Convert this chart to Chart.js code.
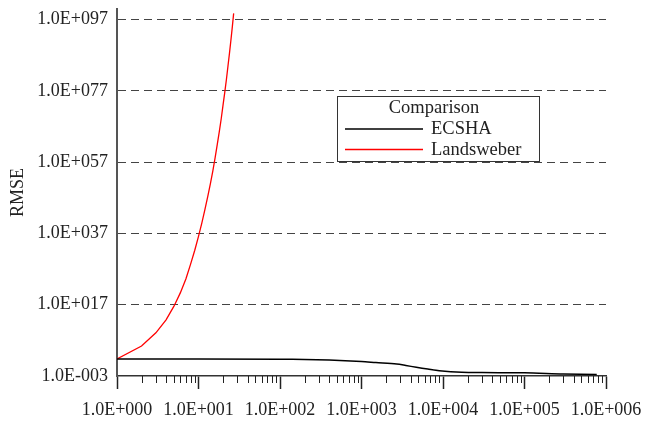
<!DOCTYPE html>
<html>
<head>
<meta charset="utf-8">
<script src="https://cdn.jsdelivr.net/npm/chart.js@4/dist/chart.umd.min.js"></script>
<style>
  html, body { margin: 0; padding: 0; background: #fff; }
  #wrap { width: 645px; height: 421px; position: relative; }
</style>
</head>
<body>
<div id="wrap"><canvas id="chart"></canvas></div>
<script>
// RMSE vs iteration, ECSHA against Landsweber (log-log)

// iteration counts and RMSE
const ecshaX = [1, 100, 200, 400, 1000, 1500, 2700, 3500, 4700, 6500, 9000, 17000, 30000, 100000, 300000, 770000];
const ecshaY = [60, 50, 45, 30, 12, 6, 2.3, 0.9, 0.28, 0.09, 0.031, 0.011, 0.009, 0.008, 0.0036, 0.0026];

const landX = [1, 2, 3, 4, 5, 6, 7, 8, 9, 10, 11, 12, 13, 14, 15, 16, 17, 18, 19, 20, 21, 22, 23, 24, 25, 26, 27];
const landY = [6e1, 2.5e5, 1.3e9, 6e12, 4e16, 2.5e20, 1.6e24, 2.5e28, 2e32, 1.6e36, 1e40, 6e43, 2.5e47, 1e51, 4e54,
               2e58, 1e62, 4e65, 1.6e69, 1e73, 4e76, 1.6e80, 1e84, 4e87, 2e91, 1e95, 6e98];

const seriesNames = ['ECSHA', 'Landsweber'];
const seriesColors = ['#000000', '#ff0000'];
const legendTitle = 'Comparison';

const xTicks = [1, 10, 100, 1000, 10000, 100000, 1000000];
const xTickLabels = ['1.0E+000', '1.0E+001', '1.0E+002', '1.0E+003', '1.0E+004', '1.0E+005', '1.0E+006'];
const yTicks = [1e-3, 1e17, 1e37, 1e57, 1e77, 1e97];
const yTickLabels = ['1.0E-003', '1.0E+017', '1.0E+037', '1.0E+057', '1.0E+077', '1.0E+097'];

const SERIF = "'Liberation Serif', 'DejaVu Serif', serif";

// short minor ticks between the decades of the x axis
const minorTicks = {
  id: 'minorTicks',
  afterDraw(chart) {
    const xs = chart.scales.x;
    const ctx = chart.ctx;
    const y0 = xs.top;
    ctx.save();
    ctx.strokeStyle = '#222';
    ctx.lineWidth = 1;
    ctx.beginPath();
    for (let d = 0; d < xTicks.length - 1; d++) {
      for (let m = 2; m <= 9; m++) {
        const px = Math.round(xs.getPixelForValue(xTicks[d] * m)) + 0.5;
        ctx.moveTo(px, y0);
        ctx.lineTo(px, y0 + 7);
      }
    }
    ctx.stroke();
    ctx.restore();
  }
};

// boxed legend sitting inside the plot
const boxLegend = {
  id: 'boxLegend',
  afterDraw(chart) {
    const ctx = chart.ctx;
    const bx = 337.5, by = 96.5, bw = 202, bh = 65;
    ctx.save();
    ctx.fillStyle = '#fff';
    ctx.fillRect(bx, by, bw, bh);
    ctx.strokeStyle = '#333';
    ctx.lineWidth = 1;
    ctx.strokeRect(bx, by, bw, bh);

    ctx.fillStyle = '#222';
    ctx.font = '18.5px ' + SERIF;
    ctx.textBaseline = 'middle';
    ctx.textAlign = 'center';
    ctx.fillText(legendTitle, 434, 108);

    ctx.textAlign = 'left';
    const rows = [129, 149.5];
    seriesNames.forEach((name, i) => {
      ctx.strokeStyle = seriesColors[i];
      ctx.lineWidth = 1.5;
      ctx.beginPath();
      ctx.moveTo(345, rows[i]);
      ctx.lineTo(423, rows[i]);
      ctx.stroke();
      ctx.fillStyle = '#222';
      ctx.fillText(name, 431, rows[i] + 0.5);
    });
    ctx.restore();
  }
};

new Chart(document.getElementById('chart'), {
  type: 'line',
  data: {
    datasets: [
      {
        label: seriesNames[0],
        data: ecshaX.map((x, i) => ({ x: x, y: ecshaY[i] })),
        borderColor: seriesColors[0],
        borderWidth: 1.5,
        pointRadius: 0,
        tension: 0.3,
        fill: false
      },
      {
        label: seriesNames[1],
        data: landX.map((x, i) => ({ x: x, y: landY[i] })),
        borderColor: seriesColors[1],
        borderWidth: 1.3,
        pointRadius: 0,
        tension: 0,
        fill: false
      }
    ]
  },
  options: {
    responsive: true,
    maintainAspectRatio: false,
    animation: false,
    layout: { padding: { top: 9, right: 39, bottom: 0, left: 0 } },
    plugins: {
      legend: { display: false },
      tooltip: { enabled: false }
    },
    scales: {
      x: {
        type: 'logarithmic',
        min: 1,
        max: 1e6,
        afterBuildTicks: scale => { scale.ticks = xTicks.map(v => ({ value: v })); },
        afterFit: scale => {
          scale.height = 45;
          scale.paddingLeft = 0;
          scale.paddingRight = 0;
        },
        grid: {
          drawOnChartArea: false,
          tickLength: 13,
          tickColor: '#222',
          tickWidth: 1.5
        },
        border: { display: true, color: '#333', width: 1.5 },
        ticks: {
          autoSkip: false,
          maxRotation: 0,
          padding: 10,
          color: '#222',
          font: { family: SERIF, size: 18 },
          callback: (v, i) => xTickLabels[i]
        }
      },
      y: {
        type: 'logarithmic',
        min: 1e-3,
        max: 1e100,
        afterBuildTicks: scale => { scale.ticks = yTicks.map(v => ({ value: v })); },
        afterFit: scale => {
          scale.width = 117;
          scale.paddingTop = 0;
          scale.paddingBottom = 0;
        },
        grid: {
          drawTicks: false,
          color: c => (c.tick && c.tick.value === yTicks[0]) ? 'rgba(0,0,0,0)' : '#444',
          lineWidth: 1
        },
        border: { display: true, color: '#555', width: 2, dash: [8, 5] },
        ticks: {
          autoSkip: false,
          padding: 9,
          color: '#222',
          font: { family: SERIF, size: 18 },
          callback: (v, i) => yTickLabels[i]
        },
        title: {
          display: true,
          text: 'RMSE',
          color: '#222',
          padding: { top: 7, bottom: 0 },
          font: { family: SERIF, size: 18 }
        }
      }
    }
  },
  plugins: [minorTicks, boxLegend]
});
</script>
</body>
</html>
